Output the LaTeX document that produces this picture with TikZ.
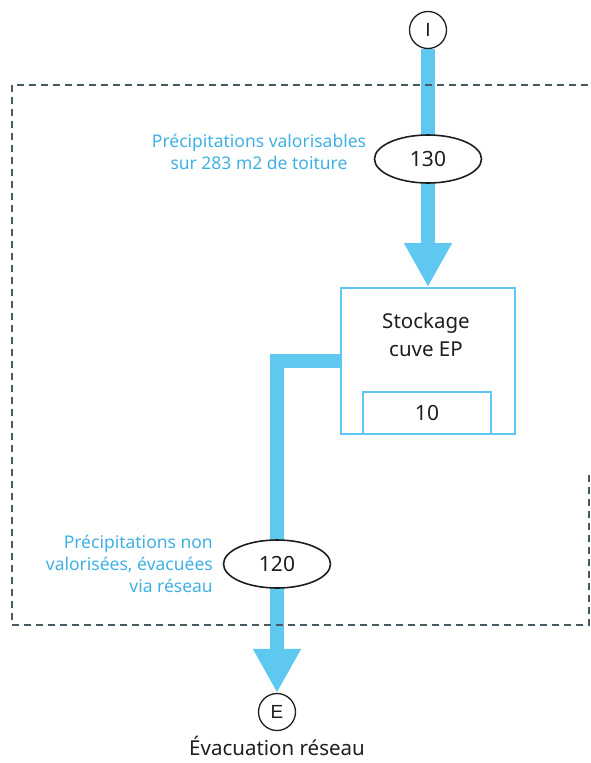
\documentclass[tikz,border=0pt]{standalone}
\usepackage{fontspec}
\setmainfont{Noto Sans}
\newfontfamily\termfont{Liberation Sans}
\usetikzlibrary{arrows.meta,backgrounds,shapes.geometric}
\definecolor{flow}{RGB}{95,200,240}
\definecolor{lbl}{RGB}{64,176,228}
\definecolor{dashc}{RGB}{70,90,100}
\definecolor{txt}{RGB}{30,30,30}
\tikzset{
  flowline/.style={draw=flow,line width=14pt,line join=miter,-{Triangle[length=44pt,width=45pt]}},
  terminal/.style={circle,draw=txt,line width=1.3pt,fill=white,minimum size=37pt,inner sep=0pt,text=txt,font=\termfont\fontsize{19}{22}\selectfont},
  valeur/.style={ellipse,draw=txt,line width=1.6pt,fill=white,minimum width=107pt,minimum height=48pt,inner sep=0pt,text=txt,font=\fontsize{21}{24}\selectfont},
  cuvebox/.style={rectangle,draw=flow,line width=2pt,fill=white,inner sep=0pt,text=txt,font=\fontsize{21}{24}\selectfont},
  lbltext/.style={text=lbl,font=\fontsize{17.5}{22}\selectfont,inner sep=0pt},
  plain/.style={text=txt,inner sep=0pt},
  dashbox/.style={draw=dashc,line width=1.8pt,dash pattern=on 7pt off 5pt}
}
\begin{document}
\begin{tikzpicture}[x=1pt,y=-1pt]
\useasboundingbox (0,0) rectangle (590,763);
\draw[dashbox] (589,475) -- (589,625) -- (12,625) -- (12,85) -- (590,85);
\node[terminal] (I) at (428,30) {I};
\node[valeur] (v130) at (428,159) {130};
\node[cuvebox,minimum width=174pt,minimum height=146pt] (cuve) at (428,361) {};
\node[plain,align=center,font=\fontsize{20.5}{28}\selectfont] (cuvelbl) at (426,335) {Stockage\\cuve EP};
\node[cuvebox,minimum width=128pt,minimum height=42pt] (stock) at (427,413) {10};
\node[valeur] (v120) at (277,564) {120};
\node[terminal] (E) at (277,712) {E};
\node[plain,font=\fontsize{20.5}{24}\selectfont] (Elbl) at (277,746) {Évacuation réseau};
\node[lbltext,align=center] (l130) at (259,152) {Précipitations valorisables\\sur 283 m2 de toiture};
\node[lbltext,align=right,anchor=east] (l120) at (213,564) {Précipitations non\\valorisées, évacuées\\via réseau};
\begin{scope}[on background layer]
\draw[flowline] (I.south) -- (cuve.north);
\draw[flowline] (cuve.west) -| (E.north);
\end{scope}
\end{tikzpicture}
\end{document}
